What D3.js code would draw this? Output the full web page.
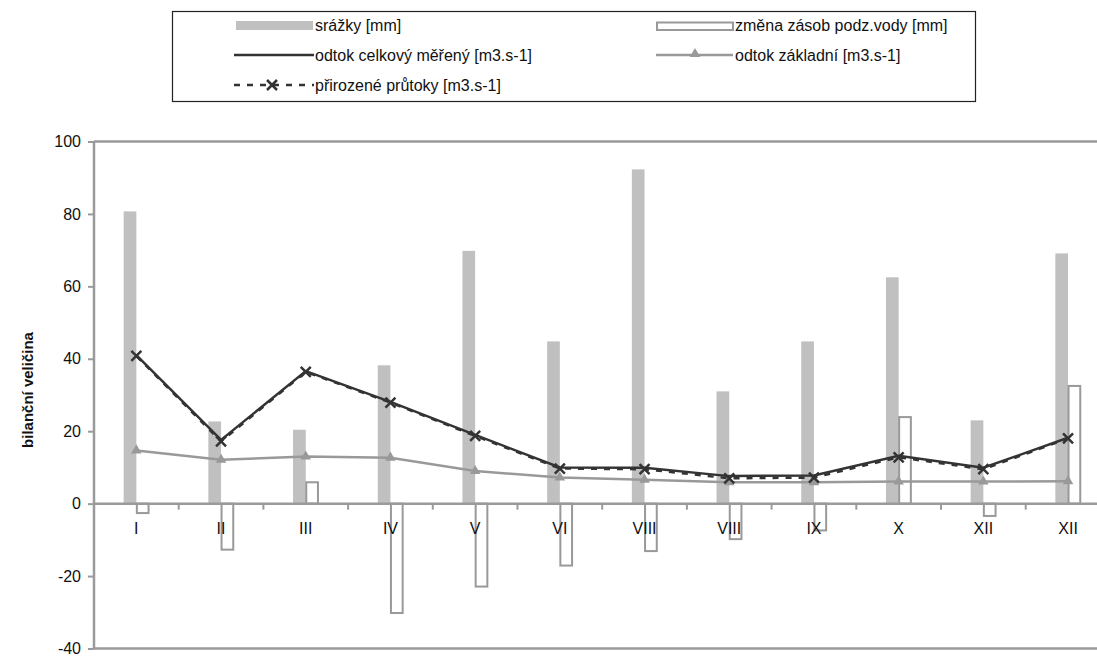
<!DOCTYPE html>
<html>
<head>
<meta charset="utf-8">
<script src="https://cdn.jsdelivr.net/npm/d3@7"></script>
<style>
  html, body { margin: 0; padding: 0; background: #fff; }
  svg { display: block; font-family: "Liberation Sans", Arial, sans-serif; }
</style>
</head>
<body>
<svg id="chart" width="1097" height="657"></svg>
<script>
// Monthly water balance components
const months = ["I", "II", "III", "IV", "V", "VI", "VIII", "VIII", "IX", "X", "XII", "XII"];
const srazky = [80.7, 22.7, 20.4, 38.2, 69.8, 44.8, 92.3, 31.0, 44.8, 62.5, 23.0, 69.1];
const zmenaZasob = [-2.6, -12.7, 5.9, -30.2, -22.9, -17.1, -13.1, -9.8, -7.4, 23.9, -3.4, 32.5];
const odtokCelkovy = [41.0, 17.6, 36.6, 28.1, 19.0, 10.0, 9.9, 7.6, 7.8, 13.2, 9.9, 18.2];
const odtokZakladni = [14.7, 12.1, 13.0, 12.7, 9.0, 7.2, 6.6, 5.9, 5.9, 6.1, 6.1, 6.2];
const prirozenePrutoky = [40.8, 17.2, 36.4, 27.9, 18.7, 9.7, 9.5, 7.0, 7.2, 12.8, 9.5, 18.0];
const yTicks = [-40, -20, 0, 20, 40, 60, 80, 100];

const svg = d3.select("#chart");
const plot = { left: 94, right: 1110.4, top: 141.5, bottom: 648.5 };

const x0 = d3.scaleBand().domain(d3.range(months.length)).range([plot.left, plot.right]).padding(0);
const cx = i => x0(i) + x0.bandwidth() / 2;
const bw = x0.bandwidth() * 0.15;
const x1 = d3.scaleBand().domain(["srazky", "zmena"]).range([-bw, bw]).padding(0);
const y = d3.scaleLinear().domain([-40, 100]).range([plot.bottom, plot.top]);

const axisColor = "#9a9a9a";
const dark = "#333333";
const gray = "#999999";

// plot frame (top and bottom)
svg.append("line").attr("x1", plot.left).attr("x2", plot.right)
  .attr("y1", y(100)).attr("y2", y(100)).attr("stroke", axisColor).attr("stroke-width", 2.5);
svg.append("line").attr("x1", plot.left).attr("x2", plot.right)
  .attr("y1", y(-40)).attr("y2", y(-40)).attr("stroke", axisColor).attr("stroke-width", 2.5);

// precipitation bars
svg.append("g").selectAll("rect").data(srazky).join("rect")
  .attr("x", (d, i) => cx(i) + x1("srazky"))
  .attr("width", x1.bandwidth())
  .attr("y", d => y(Math.max(0, d)))
  .attr("height", d => Math.abs(y(d) - y(0)))
  .attr("fill", "#c0c0c0");

// groundwater storage change bars (outlined)
svg.append("g").selectAll("rect").data(zmenaZasob).join("rect")
  .attr("x", (d, i) => cx(i) + x1("zmena") + 0.5)
  .attr("width", x1.bandwidth() - 1)
  .attr("y", d => y(Math.max(0, d)))
  .attr("height", d => Math.abs(y(d) - y(0)))
  .attr("fill", "#fff")
  .attr("stroke", gray)
  .attr("stroke-width", 2);

// y axis
const yAxis = svg.append("g").attr("transform", `translate(${plot.left},0)`)
  .call(d3.axisLeft(y).tickValues(yTicks).tickSize(6).tickPadding(7).tickFormat(d => String(d)));
yAxis.select(".domain").attr("stroke", axisColor).attr("stroke-width", 2.5)
  .attr("d", `M0,${y(-40)}V${y(100)}`);
yAxis.selectAll(".tick line").attr("stroke", axisColor).attr("stroke-width", 2);
yAxis.selectAll(".tick text").attr("fill", "#111").style("font-size", "16px")
  .style("font-family", "Liberation Sans, Arial, sans-serif");

// x axis at zero
const xAxis = svg.append("g").attr("transform", `translate(0,${y(0)})`);
xAxis.append("line").attr("x1", plot.left).attr("x2", plot.right)
  .attr("stroke", axisColor).attr("stroke-width", 2.5);
xAxis.selectAll("line.tk").data(d3.range(1, months.length)).join("line").attr("class", "tk")
  .attr("x1", i => x0(i)).attr("x2", i => x0(i)).attr("y1", 0).attr("y2", 6)
  .attr("stroke", axisColor).attr("stroke-width", 2);
xAxis.selectAll("text").data(months).join("text")
  .attr("x", (d, i) => cx(i)).attr("y", 30)
  .attr("text-anchor", "middle").attr("fill", "#111").style("font-size", "16px")
  .text(d => d);

// lines
const line = d3.line().x((d, i) => cx(i)).y(d => y(d));

svg.append("path").datum(odtokZakladni).attr("d", line)
  .attr("fill", "none").attr("stroke", gray).attr("stroke-width", 2.5);
svg.append("path").datum(prirozenePrutoky).attr("d", line)
  .attr("fill", "none").attr("stroke", dark).attr("stroke-width", 2.5)
  .attr("stroke-dasharray", "6,7");
svg.append("path").datum(odtokCelkovy).attr("d", line)
  .attr("fill", "none").attr("stroke", dark).attr("stroke-width", 2.5);

// triangle markers
const tri = d3.symbol().type(d3.symbolTriangle).size(48);
svg.append("g").selectAll("path").data(odtokZakladni).join("path")
  .attr("transform", (d, i) => `translate(${cx(i)},${y(d)})`)
  .attr("d", tri).attr("fill", gray);

// x markers
const xm = 5;
svg.append("g").selectAll("path").data(prirozenePrutoky).join("path")
  .attr("d", (d, i) => {
    const px = cx(i), py = y(d);
    return `M${px - xm},${py - xm}L${px + xm},${py + xm}M${px - xm},${py + xm}L${px + xm},${py - xm}`;
  })
  .attr("stroke", dark).attr("stroke-width", 2.5).attr("fill", "none");

// y axis title
svg.append("text")
  .attr("transform", "translate(33,390) rotate(-90)")
  .attr("text-anchor", "middle").attr("fill", "#111")
  .style("font-size", "15px").style("font-weight", "bold")
  .text("bilanční veličina");

// legend
const lg = svg.append("g");
lg.append("rect").attr("x", 172.5).attr("y", 11.5).attr("width", 803).attr("height", 90)
  .attr("fill", "#fff").attr("stroke", "#222").attr("stroke-width", 1.2);

const legendText = (x, yy, t) => lg.append("text").attr("x", x).attr("y", yy)
  .attr("dy", "0.35em").attr("fill", "#111").style("font-size", "16px").text(t);

// row 1
lg.append("rect").attr("x", 236).attr("y", 21).attr("width", 77).attr("height", 9).attr("fill", "#c0c0c0");
legendText(315, 25.5, "srážky [mm]");
lg.append("rect").attr("x", 657).attr("y", 22.5).attr("width", 76).attr("height", 7.5)
  .attr("fill", "#fff").attr("stroke", gray).attr("stroke-width", 2);
legendText(735, 25.5, "změna zásob podz.vody [mm]");

// row 2
lg.append("line").attr("x1", 234).attr("x2", 314).attr("y1", 55).attr("y2", 55)
  .attr("stroke", dark).attr("stroke-width", 2.5);
legendText(315, 55.5, "odtok celkový měřený [m3.s-1]");
lg.append("line").attr("x1", 656).attr("x2", 733).attr("y1", 55).attr("y2", 55)
  .attr("stroke", gray).attr("stroke-width", 2.5);
lg.append("path").attr("transform", "translate(695,54)").attr("d", tri).attr("fill", gray);
legendText(735, 55.5, "odtok základní [m3.s-1]");

// row 3
lg.append("line").attr("x1", 234).attr("x2", 314).attr("y1", 85).attr("y2", 85)
  .attr("stroke", dark).attr("stroke-width", 2.5).attr("stroke-dasharray", "6,7");
lg.append("path")
  .attr("d", `M${272 - xm},${85 - xm}L${272 + xm},${85 + xm}M${272 - xm},${85 + xm}L${272 + xm},${85 - xm}`)
  .attr("stroke", dark).attr("stroke-width", 2.5);
legendText(315, 85.5, "přirozené průtoky [m3.s-1]");
</script>
</body>
</html>
